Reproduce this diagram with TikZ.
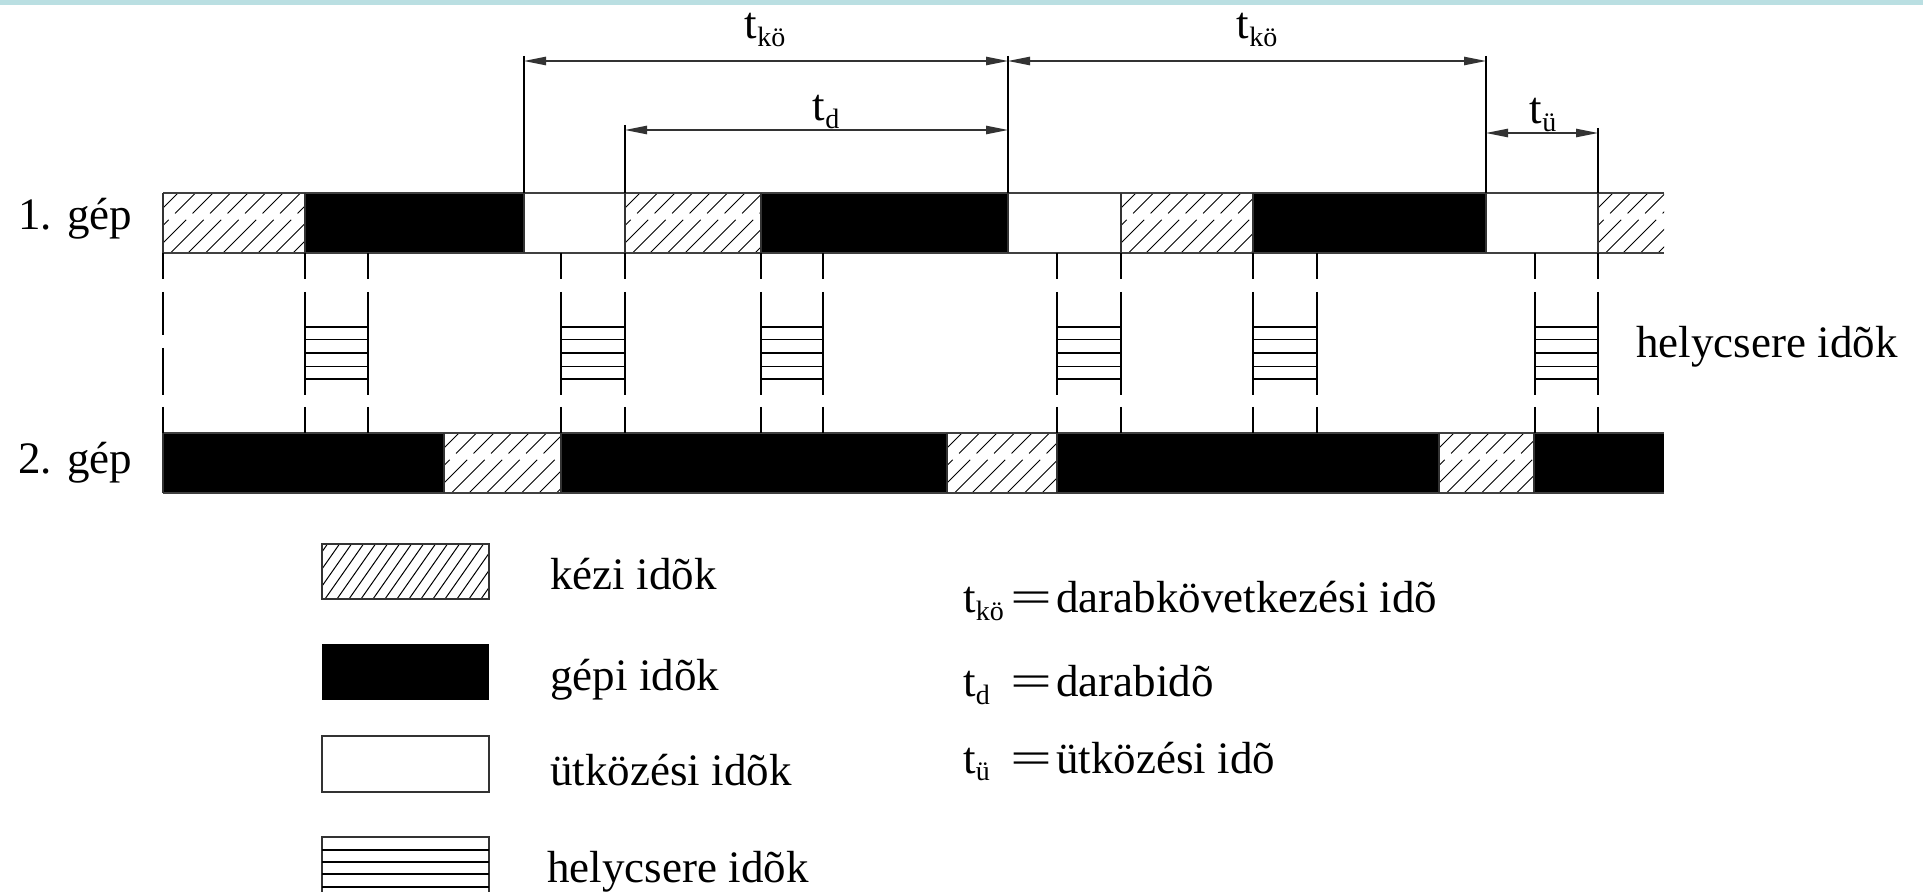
\documentclass[tikz,border=0pt]{standalone}
\usepackage{fontspec}
\setmainfont{Liberation Serif}
\usepackage{graphicx}
\usetikzlibrary{arrows.meta}

\definecolor{stripcol}{HTML}{BADFE2}

% subscripted time symbol, e.g. t with "kö" below
\newcommand\tsub[1]{t\raisebox{-0.17em}{\fontsize{14}{14}\selectfont #1}}
% wide equals sign used in the definitions
\newcommand\eqsgn{\scalebox{1.65}[1]{=}\kern2pt}

% diagonal, interrupted hatching of a bar segment
\newcommand\hatchbar[4]{%
  \begin{scope}
    \clip (#1,#2) rectangle (#3,#4);
    \foreach \h in {0,17.5,...,240}
      \draw[hatchline] (#1-80+\h,#4) -- ++(90,-90);
  \end{scope}}
% continuous hatching of the legend swatch
\newcommand\hatchleg[4]{%
  \begin{scope}
    \clip (#1,#2) rectangle (#3,#4);
    \foreach \h in {0,12,...,220}
      \draw[leghatch] (#1-45+\h,#4) -- ++(42,-60);
  \end{scope}}

\tikzset{
  hatchline/.style={line width=0.5pt, dash pattern=on 23.5pt off 4.5pt},
  leghatch/.style={line width=0.5pt},
  barline/.style={draw=black!75, line width=0.7pt},
  segline/.style={draw=black!80, line width=0.55pt},
  sepline/.style={draw=black, line width=0.6pt},
  extline/.style={draw=black, line width=0.55pt},
  dimarrow/.style={draw=black!80, line width=0.6pt,
    {Triangle[length=11pt,width=4.2pt]}-{Triangle[length=11pt,width=4.2pt]}},
  txt/.style={font=\fontsize{22.5}{27}\selectfont, inner sep=0pt, anchor=base west},
  dimlbl/.style={font=\fontsize{22.5}{27}\selectfont, inner sep=0pt, anchor=base},
}

\begin{document}
\begin{tikzpicture}[x=0.5pt,y=-0.5pt]
\useasboundingbox (0,0) rectangle (1923,892);

% thin strip along the top edge
\fill[stripcol] (0,0) rectangle (1923,5);

% ---------------- machine 1 ----------------
\foreach \a/\b in {305/524,761/1008,1253/1486}
  \fill[black] (\a,193) rectangle (\b,253);
\foreach \a/\b in {163/305,625/761,1121/1253,1598/1664}
  \hatchbar{\a}{193}{\b}{253};
\draw[barline] (163,193) -- (1664,193) (163,253) -- (1664,253);
\foreach \x in {163,305,524,625,761,1008,1121,1253,1486,1598}
  \draw[segline] (\x,193) -- (\x,253);

% ---------------- machine 2 ----------------
\foreach \a/\b in {163/444,561/947,1057/1439,1534/1664}
  \fill[black] (\a,433) rectangle (\b,493);
\foreach \a/\b in {444/561,947/1057,1439/1534}
  \hatchbar{\a}{433}{\b}{493};
\draw[barline] (163,433) -- (1664,433) (163,493) -- (1664,493);
\foreach \x in {163,444,561,947,1057,1439,1534}
  \draw[segline] (\x,433) -- (\x,493);

% ---------------- interrupted guide lines ----------------
\foreach \x in {305,368,561,625,761,823,1057,1121,1253,1317,1535,1598}
  \draw[sepline] (\x,253) -- (\x,279) (\x,292) -- (\x,395) (\x,407) -- (\x,433);
\draw[sepline] (163,253) -- (163,279) (163,292) -- (163,335)
               (163,348) -- (163,395) (163,407) -- (163,433);

% position change (helycsere) stripes
\foreach \p/\q in {305/368,561/625,761/823,1057/1121,1253/1317,1535/1598}
  \foreach \yy in {327,339.5,353,366.5,379}
    \draw[sepline] (\p,\yy) -- (\q,\yy);

% ---------------- dimensions ----------------
\coordinate (xa) at (524,56);   \coordinate (xab) at (524,193);
\coordinate (xb) at (1008,56);  \coordinate (xbb) at (1008,193);
\coordinate (xc) at (1486,56);  \coordinate (xcb) at (1486,193);
\coordinate (xd) at (625,125);  \coordinate (xdb) at (625,193);
\coordinate (xe) at (1598,128); \coordinate (xeb) at (1598,193);
\foreach \t/\b in {xa/xab,xb/xbb,xc/xcb,xd/xdb,xe/xeb}
  \draw[extline] (\t) -- (\b);

\coordinate (k1a) at (524,61);  \coordinate (k1b) at (1008,61);
\coordinate (k2a) at (1008,61); \coordinate (k2b) at (1486,61);
\coordinate (da)  at (625,130); \coordinate (db)  at (1008,130);
\coordinate (ua)  at (1486,133);\coordinate (ub)  at (1598,133);
\draw[dimarrow] (k1a) -- (k1b);
\draw[dimarrow] (k2a) -- (k2b);
\draw[dimarrow] (da) -- (db);
\draw[dimarrow] (ua) -- (ub);

\node[dimlbl] (lk1) at (765,39)   {\tsub{kö}};
\node[dimlbl] (lk2) at (1257,39)  {\tsub{kö}};
\node[dimlbl] (ld)  at (826,121)  {\tsub{d}};
\node[dimlbl] (lu)  at (1543,124) {\tsub{ü}};

% ---------------- row labels ----------------
\node[txt] (g1) at (18,230) {1. gép};
\node[txt] (g2) at (18,474) {2. gép};
\node[txt] (hc) at (1636,358) {helycsere idõk};

% ---------------- legend ----------------
\hatchleg{322}{544}{489}{599}
\draw[segline] (322,544) rectangle (489,599);
\fill[black] (322,644) rectangle (489,700);
\draw[segline] (322,736) rectangle (489,792);
\draw[segline] (322,892) -- (322,837) -- (489,837) -- (489,892);
\foreach \yy in {850,862,874,887}
  \draw[sepline] (322,\yy) -- (489,\yy);

\node[txt] (l1) at (550,590) {kézi idõk};
\node[txt] (l2) at (550,690) {gépi idõk};
\node[txt] (l3) at (550,785) {ütközési idõk};
\node[txt] (l4) at (547,882) {helycsere idõk};

% ---------------- definitions ----------------
\node[txt] (d1s) at (963,613) {\tsub{kö}};
\node[txt] (d1t) at (1010,613) {\eqsgn darabkövetkezési idõ};
\node[txt] (d2s) at (963,697) {\tsub{d}};
\node[txt] (d2t) at (1010,697) {\eqsgn darabidõ};
\node[txt] (d3s) at (963,773) {\tsub{ü}};
\node[txt] (d3t) at (1010,773) {\eqsgn ütközési idõ};
\end{tikzpicture}
\end{document}
